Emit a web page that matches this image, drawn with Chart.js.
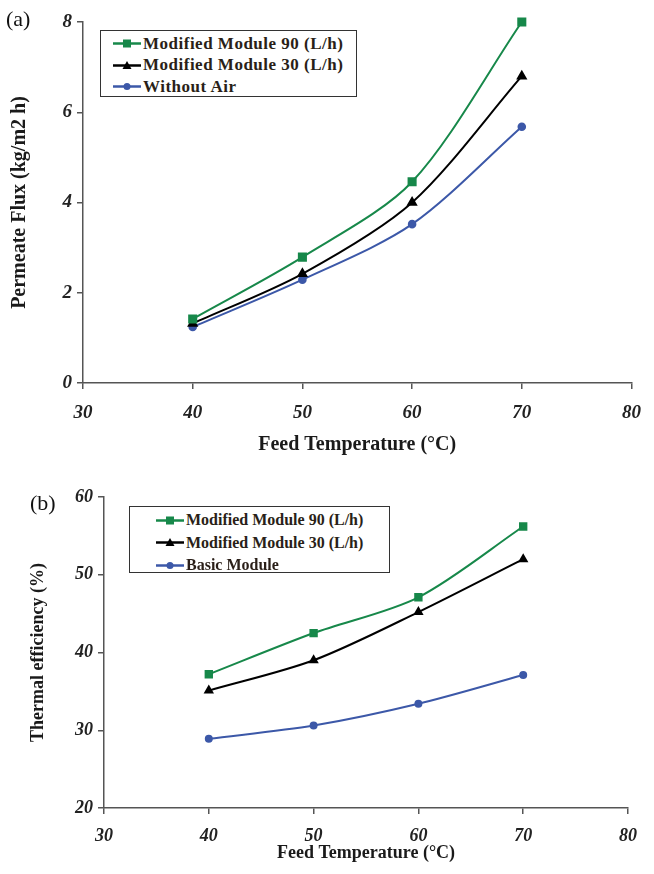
<!DOCTYPE html>
<html lang="en">
<head>
<meta charset="UTF-8">
<title>Permeate flux and thermal efficiency</title>
<script src="https://cdn.jsdelivr.net/npm/chart.js"></script>
<style>
    body {margin:0; background:#fff; font-family:'Liberation Serif',serif;}
    .page {position:relative; width:654px; height:874px;}
    .wrap {position:absolute; left:0; width:654px;}
    .tag {position:absolute; font-size:22px; color:#111;}
    .legend {position:absolute; border:1.5px solid #333; background:#fff; box-sizing:border-box;}
    .legend .row {display:flex; align-items:center; font-weight:bold; color:#2a1f18; white-space:nowrap;}
    .legend svg {margin-right:2px;}
    #legendA {left:100px; top:30px; width:257px; height:67px; padding:2px 0 0 12px;}
    #legendA .row {height:21.5px; font-size:17px; letter-spacing:0.5px;}
    #legendB {left:129px; top:506px; width:261px; height:67px; padding:2px 0 0 26px;}
    #legendB .row {height:22.5px; font-size:16px;}
</style>
</head>
<body>
<div class="page">
    <div class="wrap" style="top:0;height:460px"><canvas id="chartA" width="654" height="460"></canvas></div>
    <div class="wrap" style="top:460px;height:414px"><canvas id="chartB" width="654" height="414"></canvas></div>
    <div class="tag" style="left:6px;top:6px">(a)</div>
    <div class="tag" style="left:30px;top:490px">(b)</div>
    <div class="legend" id="legendA"></div>
    <div class="legend" id="legendB"></div>
</div>
<script>
// feed temperature (°C)
const temps = [40, 50, 60, 70];

// (a) permeate flux (kg/m2 h)
const fluxMod90 = [1.42, 2.79, 4.46, 8.0];
const fluxMod30 = [1.32, 2.42, 4.0, 6.8];
const fluxNoAir = [1.24, 2.29, 3.52, 5.68];

// (b) thermal efficiency (%)
const effMod90 = [37.2, 42.5, 47.1, 56.2];
const effMod30 = [35.1, 39.0, 45.2, 52.0];
const effBasic = [28.9, 30.6, 33.4, 37.1];

const GREEN = '#17884a', BLACK = '#000000', BLUE = '#3c58a8';

function series(label, values, color, shape, r) {
    return {
        label: label,
        data: temps.map((t, i) => ({x: t, y: values[i]})),
        borderColor: color, backgroundColor: color,
        borderWidth: 2, pointStyle: shape, pointRadius: r, pointHoverRadius: r,
        tension: 0.3, clip: false
    };
}

// o: yMin, yMax, yStep, yTitle, yWidth, xHeight, yTitlePad, xTitlePad, xTickPad, tickSize, titleSize
function axes(o) {
    const grid = {drawOnChartArea:false, drawTicks:true, tickLength:6, color:'#555', lineWidth:1.5};
    const tickFont = {family:'Liberation Serif', size:o.tickSize, style:'italic', weight:'bold'};
    const titleFont = {family:'Liberation Serif', size:o.titleSize, weight:'bold'};
    return {
        x: {type:'linear', min:30, max:80,
            ticks:{stepSize:10, font:tickFont, color:'#222', padding:o.xTickPad, maxRotation:0},
            grid: grid, border:{color:'#555', width:1.5},
            title:{display:true, text:'Feed Temperature (°C)', font:titleFont, color:'#1a1a1a', padding:{top:0, bottom:o.xTitlePad}},
            afterFit: s => { s.height = o.xHeight; }},
        y: {min:o.yMin, max:o.yMax,
            ticks:{stepSize:o.yStep, font:tickFont, color:'#222', padding:5},
            grid: grid, border:{color:'#555', width:1.5},
            title:{display:true, text:o.yTitle, font:titleFont, color:'#1a1a1a', padding:{top:o.yTitlePad, bottom:0}},
            afterFit: s => { s.width = o.yWidth; }}
    };
}

function makeChart(id, datasets, scales, pad) {
    return new Chart(document.getElementById(id), {
        type: 'line',
        data: {datasets: datasets},
        options: {
            responsive:false, animation:false, events:[],
            layout:{padding:pad},
            plugins:{legend:{display:false}, tooltip:{enabled:false}},
            scales: scales
        }
    });
}

function buildLegend(el, datasets) {
    el.innerHTML = datasets.map(d => {
        let mark;
        if (d.pointStyle === 'rect') mark = `<rect x="10" y="3.5" width="8" height="8" fill="${d.borderColor}"/>`;
        else if (d.pointStyle === 'triangle') mark = `<polygon points="14,3 18.5,11 9.5,11" fill="${d.borderColor}"/>`;
        else mark = `<circle cx="14" cy="7.5" r="3.5" fill="${d.borderColor}"/>`;
        return `<div class="row"><svg width="28" height="15"><line x1="0" y1="7.5" x2="28" y2="7.5" stroke="${d.borderColor}" stroke-width="2.5"/>${mark}</svg>${d.label}</div>`;
    }).join('');
}

const dsA = [
    series('Modified Module 90 (L/h)', fluxMod90, GREEN, 'rect', 5),
    series('Modified Module 30 (L/h)', fluxMod30, BLACK, 'triangle', 4.5),
    series('Without Air', fluxNoAir, BLUE, 'circle', 3.3)
];
const dsB = [
    series('Modified Module 90 (L/h)', effMod90, GREEN, 'rect', 4.5),
    series('Modified Module 30 (L/h)', effMod30, BLACK, 'triangle', 4),
    series('Basic Module', effBasic, BLUE, 'circle', 3)
];

makeChart('chartA', dsA, axes({yMin:0, yMax:8, yStep:2, yTitle:'Permeate Flux (kg/m2 h)', yWidth:83, xHeight:77,
    yTitlePad:8, xTitlePad:3, xTickPad:13, tickSize:19, titleSize:20}), {top:22, right:12, left:0, bottom:0});
makeChart('chartB', dsB, axes({yMin:20, yMax:60, yStep:10, yTitle:'Thermal efficiency (%)', yWidth:104, xHeight:66,
    yTitlePad:28, xTitlePad:10, xTickPad:12, tickSize:18, titleSize:18}), {top:37, right:26, left:0, bottom:0});

buildLegend(document.getElementById('legendA'), dsA);
buildLegend(document.getElementById('legendB'), dsB);
</script>
</body>
</html>
